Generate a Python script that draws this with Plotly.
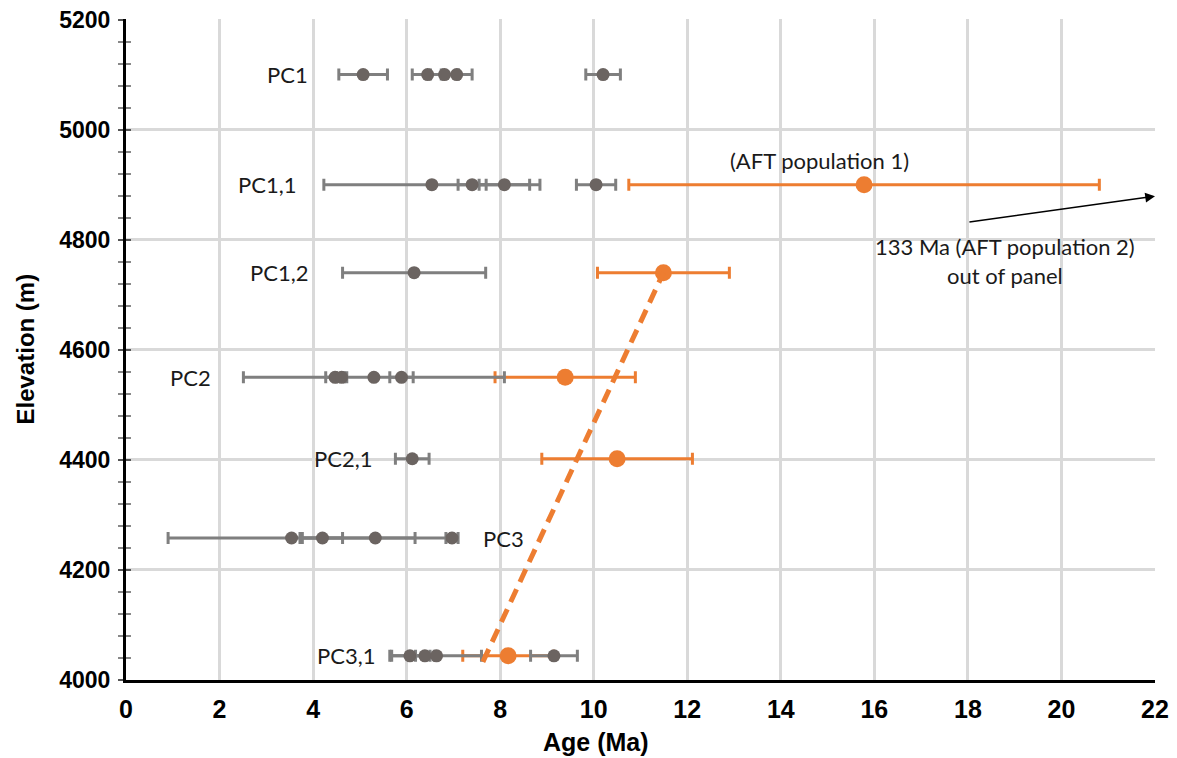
import plotly.graph_objects as go

# ---------------- data ----------------
# grey (AHe / other single-grain) ages, Ma
grey_age  = [5.07, 6.45, 6.81, 7.07, 10.20,
             6.54, 7.40, 8.09, 10.05,
             6.16,
             4.47, 4.61, 5.30, 5.89,
             6.12,
             3.54, 4.20, 5.33, 6.97,
             6.07, 6.39, 6.64, 9.15]
grey_err  = [0.52, 0.33, 0.30, 0.33, 0.37,
             2.31, 0.30, 0.54, 0.42,
             1.53,
             0.20, 0.11, 2.79, 0.25,
             0.36,
             2.64, 0.43, 1.61, 0.13,
             0.43, 0.20, 0.96, 0.50]
grey_elev = [5100, 5100, 5100, 5100, 5100,
             4900, 4900, 4900, 4900,
             4740,
             4550, 4550, 4550, 4550,
             4402,
             4258, 4258, 4258, 4258,
             4044, 4044, 4044, 4044]

# orange (AFT) ages, Ma
aft_age  = [15.78, 11.49, 9.39, 10.50, 8.17]
aft_err  = [5.03, 1.41, 1.50, 1.61, 0.97]
aft_elev = [4900, 4740, 4550, 4402, 4044]

# dashed regression line through AFT ages
trend_age  = [7.63, 11.49]
trend_elev = [4033, 4740]

# sample labels
label_text   = ["PC1", "PC1,1", "PC1,2", "PC2", "PC2,1", "PC3", "PC3,1"]
label_age    = [3.93, 3.68, 3.93, 1.86, 5.30, 7.59, 5.37]
label_elev   = [5100, 4900, 4740, 4550, 4402, 4258, 4044]
label_anchor = ["right", "right", "right", "right", "right", "left", "right"]

x_ticks = list(range(0, 23, 2))
y_ticks = list(range(4000, 5201, 200))

GREY_DOT = "#6b6461"
GREY_BAR = "#7f7f7f"
ORANGE = "#ed7d31"
NARROW = "Liberation Sans Narrow, Arial Narrow, Arial, sans-serif"
WIDE = "Liberation Sans, Arial, sans-serif"

fig = go.Figure()

fig.add_trace(go.Scatter(
    x=aft_age, y=aft_elev, mode="markers",
    marker=dict(color=ORANGE, size=17),
    error_x=dict(type="data", array=aft_err, symmetric=True,
                 color=ORANGE, thickness=3, width=6),
    showlegend=False, hoverinfo="skip"))

fig.add_trace(go.Scatter(
    x=grey_age, y=grey_elev, mode="markers",
    marker=dict(color=GREY_DOT, size=13),
    error_x=dict(type="data", array=grey_err, symmetric=True,
                 color=GREY_BAR, thickness=3, width=6),
    showlegend=False, hoverinfo="skip"))

fig.add_trace(go.Scatter(
    x=trend_age, y=trend_elev, mode="lines",
    line=dict(color=ORANGE, width=5, dash="14px,8px"),
    showlegend=False, hoverinfo="skip"))

LABEL_FONT = dict(family="Lato, Open Sans, sans-serif", size=22, color="#1a1a1a")
for t, a, e, anc in zip(label_text, label_age, label_elev, label_anchor):
    fig.add_annotation(x=a, y=e, text=t, showarrow=False,
                       xanchor=anc, yanchor="middle", font=LABEL_FONT)

fig.add_annotation(x=14.82, y=4944, text="(AFT population 1)", showarrow=False,
                   xanchor="center", yanchor="middle", font=LABEL_FONT)
fig.add_annotation(x=18.8, y=4762, text="133 Ma (AFT population 2)<br>out of panel",
                   showarrow=False, xanchor="center", yanchor="middle",
                   font=LABEL_FONT)
fig.add_annotation(x=22.0, y=4879, ax=18.0, ay=4832, axref="x", ayref="y",
                   xref="x", yref="y", text="", showarrow=True,
                   arrowhead=2, arrowsize=1.3, arrowwidth=1.5, arrowcolor="black")

# axis titles
fig.add_annotation(x=10.05, y=0, xref="x", yref="paper", yanchor="middle",
                   yshift=-62, text="<b>Age (Ma)</b>", showarrow=False,
                   font=dict(family=NARROW, size=25, color="black"))
fig.add_annotation(x=0, y=0.5, xref="paper", yref="paper", xanchor="center",
                   yanchor="middle", xshift=-101, textangle=-90,
                   text="<b>Elevation (m)</b>", showarrow=False,
                   font=dict(family=NARROW, size=24, color="black"))

fig.update_xaxes(
    range=[0, 22], tickvals=x_ticks, ticktext=[str(v) for v in x_ticks],
    showgrid=True, gridcolor="#d9d9d9", gridwidth=2.5,
    zeroline=False, showline=True, linecolor="black", linewidth=3,
    ticks="", ticklabelstandoff=5, automargin=False,
    tickfont=dict(family=NARROW, size=25, color="black", weight="bold"))

fig.update_yaxes(
    range=[4000, 5201], tickvals=y_ticks, ticktext=[str(v) for v in y_ticks],
    showgrid=True, gridcolor="#d9d9d9", gridwidth=2.5,
    zeroline=False, showline=True, linecolor="black", linewidth=3,
    ticks="outside", ticklen=5, tickcolor="#555", tickwidth=2,
    minor=dict(dtick=40, ticks="outside", ticklen=5, tickcolor="#888",
               tickwidth=2, showgrid=False),
    ticklabelstandoff=3, automargin=False, ticklabeloverflow="allow",
    tickfont=dict(family=WIDE, size=23, color="black", weight="bold"))

# inner half of the axis ticks (ticks cross the axis line)
fig.update_layout(yaxis2=dict(
    overlaying="y", side="left", anchor="x", range=[4000, 5201],
    tickvals=y_ticks, showticklabels=False, showgrid=False, zeroline=False,
    showline=False, ticks="inside", ticklen=5, tickcolor="#555", tickwidth=2,
    minor=dict(dtick=40, ticks="inside", ticklen=5, tickcolor="#888",
               tickwidth=2, showgrid=False)))
fig.add_trace(go.Scatter(x=[None], y=[None], yaxis="y2", showlegend=False,
                         hoverinfo="skip"))

# page body has an 8px margin, so the figure is drawn 8px in from the corner
fig.update_layout(
    width=1169, height=750,
    margin=dict(l=118, r=22, t=11, b=78),
    plot_bgcolor="white", paper_bgcolor="white",
    showlegend=False)

fig.write_html("out.html")
